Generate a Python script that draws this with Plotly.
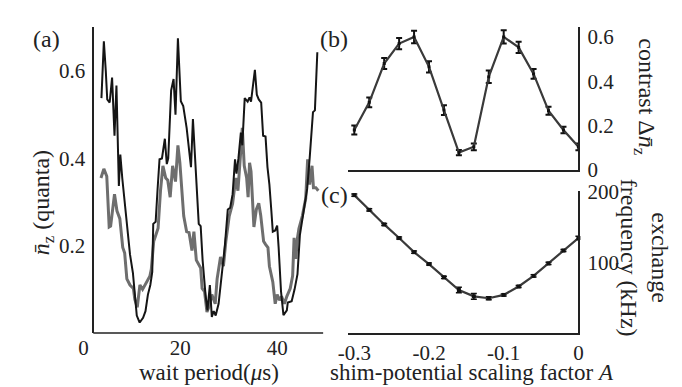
import plotly.graph_objects as go

W, H = 682, 387

# ---------------- panel (a): wait period (us) vs n_z (quanta)
t_black = [3.7, 4.2, 4.6, 4.9, 5.4, 5.9, 6.4, 6.8, 7.3, 7.6, 8.0, 8.5, 9.0, 9.6, 10.2, 10.6, 11.0, 11.6,
           12.3, 12.8, 13.3, 13.8, 14.2, 14.4, 14.9, 15.3, 15.7, 16.2, 16.8, 17.2, 17.5, 18.1, 18.6, 19.0,
           19.5, 20.1, 20.6, 21.3, 21.8, 22.2, 22.6, 23.1, 23.5, 23.8, 24.2, 24.6, 25.2, 25.6, 26.1, 26.5,
           26.9, 27.3, 27.9, 28.6, 29.2, 29.8, 30.3, 30.8, 31.3, 31.6, 32.0, 32.5, 32.8, 33.3, 33.9, 34.3,
           34.6, 35.4, 35.8, 36.2, 36.7, 37.1, 37.6, 38.0, 38.4, 38.8, 39.1, 39.6, 40.0, 40.3, 40.8, 41.3,
           42.0, 42.2, 43.0, 43.6, 44.2, 44.7, 45.4, 46.2, 46.7, 47.4, 47.8, 48.3]
n_black = [0.538, 0.668, 0.600, 0.535, 0.528, 0.585, 0.452, 0.567, 0.337, 0.409, 0.355, 0.300, 0.240, 0.180,
           0.138, 0.090, 0.040, 0.024, 0.035, 0.050, 0.088, 0.110, 0.140, 0.250, 0.255, 0.330, 0.398, 0.400,
           0.445, 0.387, 0.400, 0.556, 0.582, 0.500, 0.675, 0.531, 0.520, 0.470, 0.420, 0.380, 0.490, 0.380,
           0.290, 0.250, 0.245, 0.167, 0.088, 0.052, 0.110, 0.037, 0.050, 0.040, 0.067, 0.132, 0.200, 0.283,
           0.287, 0.318, 0.398, 0.365, 0.400, 0.459, 0.430, 0.538, 0.530, 0.540, 0.530, 0.603, 0.546, 0.535,
           0.528, 0.452, 0.450, 0.380, 0.340, 0.280, 0.232, 0.235, 0.246, 0.197, 0.095, 0.041, 0.052, 0.070,
           0.073, 0.100, 0.135, 0.225, 0.275, 0.330, 0.398, 0.506, 0.510, 0.643]

t_gray = [3.6, 4.2, 4.8, 5.3, 5.6, 5.9, 6.4, 6.9, 7.5, 8.1, 8.5, 8.95, 9.6, 10.3, 10.6, 11.1, 11.65, 12.2,
          13.0, 13.7, 14.0, 14.5, 14.8, 15.4, 15.9, 16.4, 16.98, 17.4, 17.9, 18.4, 19.0, 19.5, 19.9, 20.3,
          20.7, 21.3, 21.8, 22.4, 22.8, 23.3, 24.2, 24.5, 25.0, 25.5, 25.9, 26.5, 27.2, 27.6, 28.3, 28.9,
          29.4, 30.1, 30.8, 31.45, 31.9, 32.5, 32.8, 33.2, 33.7, 34.0, 34.3, 34.6, 35.2, 35.7, 36.2, 36.6,
          37.2, 37.6, 38.1, 38.4, 39.1, 39.6, 40.0, 40.5, 40.9, 41.5, 42.0, 42.7, 43.2, 43.5, 43.85, 44.2,
          44.5, 45.2, 45.9, 46.3, 46.7, 47.2, 47.5, 48.0, 48.5]
n_gray = [0.355, 0.376, 0.359, 0.243, 0.245, 0.275, 0.318, 0.280, 0.262, 0.196, 0.183, 0.124, 0.110, 0.102,
          0.077, 0.059, 0.110, 0.100, 0.117, 0.130, 0.146, 0.210, 0.220, 0.240, 0.326, 0.383, 0.355, 0.350,
          0.311, 0.383, 0.347, 0.430, 0.390, 0.326, 0.268, 0.232, 0.230, 0.189, 0.232, 0.167, 0.149, 0.102,
          0.095, 0.048, 0.060, 0.088, 0.067, 0.124, 0.174, 0.153, 0.210, 0.268, 0.297, 0.355, 0.326, 0.420,
          0.470, 0.383, 0.355, 0.311, 0.390, 0.370, 0.243, 0.283, 0.297, 0.270, 0.210, 0.203, 0.196, 0.153,
          0.117, 0.067, 0.088, 0.075, 0.084, 0.067, 0.084, 0.102, 0.131, 0.218, 0.170, 0.218, 0.239, 0.268,
          0.308, 0.398, 0.340, 0.383, 0.333, 0.333, 0.326]

# ---------------- panels (b), (c): shim-potential scaling factor A
A_vals = [-0.30, -0.28, -0.26, -0.24, -0.22, -0.20, -0.18, -0.16, -0.14, -0.12, -0.10, -0.08, -0.06,
          -0.04, -0.02, 0.00]
contrast = [0.180, 0.305, 0.480, 0.570, 0.600, 0.465, 0.270, 0.078, 0.104, 0.420, 0.600, 0.553, 0.433,
            0.267, 0.180, 0.104]
contrast_err = [0.020, 0.022, 0.025, 0.025, 0.028, 0.025, 0.022, 0.012, 0.015, 0.028, 0.030, 0.025, 0.022,
                0.018, 0.015, 0.015]
exch_freq = [195.6, 174.7, 154.0, 134.7, 114.7, 97.8, 79.0, 61.0, 52.0, 49.3, 54.0, 66.0, 81.0, 98.7,
             117.0, 134.7]
exch_err = [1.5, 1.5, 1.5, 1.5, 1.5, 1.5, 1.5, 4.0, 4.0, 2.0, 1.5, 1.5, 1.5, 1.5, 1.5, 2.5]

a_xticks = [0, 20, 40]
a_yticks = [0.2, 0.4, 0.6]
b_yticks = [0, 0.2, 0.4, 0.6]
c_yticks = [100, 200]
c_xticks = [-0.3, -0.2, -0.1, 0]
c_xticktext = ["-0.3", "-0.2", "-0.1", "0"]

FONT = "Liberation Serif, Times New Roman, serif"
TICK = 21
TITLE = 24
LINE_C = "#3a3a3a"


def px(x):
    return x / W


def py(y):
    return 1 - y / H


# pixel geometry
a_left_lbl, a_axis, a_right = 67, 77, 312
r_left, r_right = 337, 573
top, a_base = 10, 334
b_base, c_top = 161, 183

fig = go.Figure()

fig.add_trace(go.Scatter(x=t_gray, y=n_gray, mode="lines", line=dict(color="#6e6e6e", width=3),
                         xaxis="x", yaxis="y", showlegend=False))
fig.add_trace(go.Scatter(x=t_black, y=n_black, mode="lines", line=dict(color="#151515", width=2),
                         xaxis="x", yaxis="y", showlegend=False))

fig.add_trace(go.Scatter(x=A_vals, y=contrast, mode="lines+markers",
                         line=dict(color=LINE_C, width=2.2),
                         marker=dict(symbol="square", size=3, color="#111"),
                         error_y=dict(type="data", array=contrast_err, visible=True, color="#111",
                                      thickness=2, width=3),
                         xaxis="x2", yaxis="y2", showlegend=False, cliponaxis=False))
fig.add_trace(go.Scatter(x=A_vals, y=exch_freq, mode="lines+markers",
                         line=dict(color=LINE_C, width=2.2),
                         marker=dict(symbol="square", size=4, color="#111"),
                         error_y=dict(type="data", array=exch_err, visible=True, color="#111",
                                      thickness=1.5, width=3),
                         xaxis="x3", yaxis="y3", showlegend=False, cliponaxis=False))

tickfont = dict(family=FONT, size=TICK, color="#222")
axis_common = dict(showgrid=False, zeroline=False, linecolor="#222", linewidth=1.6, ticks="",
                   tickfont=tickfont)

fig.update_layout(
    width=W, height=H, autosize=False,
    margin=dict(l=0, r=0, t=0, b=0),
    paper_bgcolor="white", plot_bgcolor="white",
    font=dict(family=FONT, color="#222"),
    xaxis=dict(domain=[px(a_left_lbl), px(a_right)], range=[0, 49.5], anchor="y",
               showline=False, tickvals=a_xticks, ticklabelstandoff=0, **axis_common),
    yaxis=dict(domain=[py(a_base), py(top)], range=[0, 0.7], anchor="free", position=px(a_axis),
               showline=True, tickvals=a_yticks, ticklabelstandoff=3, **axis_common),
    xaxis2=dict(domain=[px(r_left), px(r_right)], range=[-0.309, 0], anchor="y2",
                showline=True, showticklabels=False, **axis_common),
    yaxis2=dict(domain=[py(b_base), py(top)], range=[0, 0.643], anchor="x2", side="right",
                showline=True, tickvals=b_yticks, ticktext=["0", "0.2", "0.4", "0.6"],
                ticklabelstandoff=3, **axis_common),
    xaxis3=dict(domain=[px(r_left), px(r_right)], range=[-0.309, 0], anchor="y3",
                showline=True, tickvals=c_xticks, ticktext=c_xticktext, ticklabelstandoff=0,
                **axis_common),
    yaxis3=dict(domain=[py(a_base), py(c_top)], range=[0, 202], anchor="x3", side="right",
                showline=True, tickvals=c_yticks, ticklabelstandoff=3, **axis_common),
)

# x-axis baseline of panel (a), starting at the y axis
fig.add_shape(type="line", xref="paper", yref="paper", x0=px(a_axis), x1=px(a_right),
              y0=py(a_base), y1=py(a_base), line=dict(color="#222", width=1.6))


def ann(text, x, y, size=TITLE, angle=0):
    fig.add_annotation(text=text, x=px(x), y=py(y), xref="paper", yref="paper", showarrow=False,
                       xanchor="center", yanchor="middle", textangle=angle,
                       font=dict(family=FONT, size=size, color="#222"))


ann("(a)", 29, 22)
ann("(b)", 323, 22)
ann("(c)", 324, 188)
ann("<i>n\u0304</i><sub>z</sub> (quanta)", 25, 196, angle=-90)
ann("contrast \u0394<i>n\u0304</i><sub>z</sub>", 641, 84, angle=90)
ann("exchange<br>frequency (kHz)", 641, 254, angle=90)
ann("wait period(<i>\u03bc</i>s)", 195, 376, size=23)
ann("shim-potential scaling factor <i>A</i>", 464, 376, size=23)

fig.write_html("out.html")
